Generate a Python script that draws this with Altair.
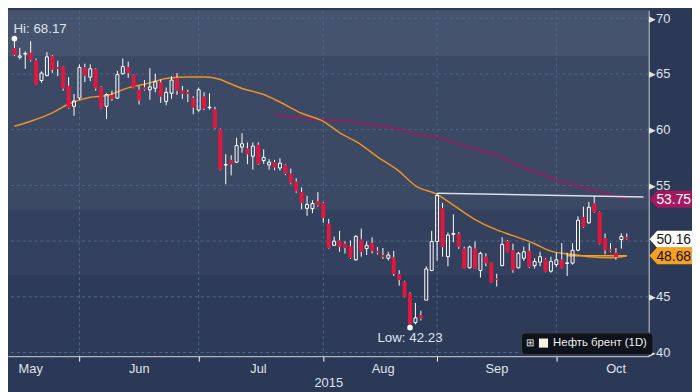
import altair as alt
import pandas as pd

# ---------------- data ----------------
SERIES = "Нефть брент (1D)"
OPEN = [67.31, 66.5, 66.78, 66.9, 66.21, 64.41, 64.85, 66.62, 65.6, 65.66,
        63.93, 62.1, 62.85, 65.58, 64.71, 65.43, 63.84, 62.1, 63.1, 62.83,
        65.02, 65.6, 64.88, 63.58, 63.78, 63.58, 63.72, 64.22, 62.54, 63.26,
        64.65, 63.5, 63.37, 62.83, 61.76, 62.97, 61.96, 61.81, 60.03, 56.82,
        57.28, 57.08, 58.43, 58.3, 57.62, 58.64, 57.22, 56.84, 57.08, 56.56,
        56.84, 56.06, 55.34, 54.39, 52.94, 52.91, 53.55, 53.43, 51.55, 49.62,
        50.05, 49.76, 49.56, 48.32, 50.14, 49.32, 49.82, 49.12, 48.75, 48.46,
        48.52, 47.02, 46.35, 45.28, 42.68, 43.34, 44.7, 47.36, 49.96, 52.94,
        48.6, 50.6, 50.65, 49.32, 47.6, 49.32, 47.36, 48.6, 48.08, 46.62,
        47.8, 50.0, 49.18, 47.6, 48.46, 49.1, 47.8, 48.11, 48.37, 47.3,
        47.89, 48.32, 47.99, 48.02, 49.18, 52.16, 51.64, 53.37, 52.6, 50.25,
        49.24, 48.95, 50.14, 50.34]
HIGH = [68.17, 67.34, 67.02, 67.94, 66.38, 65.23, 66.96, 66.7, 66.18, 65.7,
        64.71, 63.2, 65.86, 65.92, 65.86, 65.5, 63.9, 63.26, 63.5, 65.28,
        66.38, 66.1, 64.94, 63.93, 64.45, 65.52, 65.02, 64.5, 63.78, 64.8,
        65.08, 63.93, 63.58, 63.0, 63.78, 63.35, 63.26, 62.05, 60.1, 57.8,
        57.7, 59.27, 59.68, 58.86, 58.86, 58.86, 58.23, 57.36, 57.28, 57.42,
        56.9, 56.5, 55.63, 54.82, 54.07, 53.67, 54.39, 53.5, 51.99, 50.4,
        50.92, 49.97, 50.05, 50.54, 51.12, 49.97, 50.34, 49.47, 49.38, 49.04,
        49.12, 47.39, 46.44, 45.4, 44.45, 43.75, 47.74, 50.92, 54.3, 53.43,
        50.77, 52.4, 50.8, 49.5, 49.6, 49.96, 49.04, 48.9, 48.1, 47.07,
        50.34, 50.1, 49.76, 49.04, 49.5, 49.82, 48.46, 49.04, 48.46, 48.6,
        48.95, 49.82, 48.95, 49.82, 52.22, 53.09, 53.52, 54.04, 52.65, 50.68,
        49.82, 49.38, 50.71, 50.68]
LOW = [66.6, 66.3, 65.46, 66.12, 64.0, 64.21, 64.8, 65.08, 64.8, 63.5,
       61.9, 61.24, 62.68, 64.28, 64.36, 63.5, 61.85, 60.95, 62.6, 62.77,
       64.94, 64.65, 63.72, 62.25, 63.5, 62.68, 63.35, 62.4, 62.19, 62.77,
       63.11, 62.77, 62.48, 61.38, 61.61, 61.76, 61.8, 60.1, 56.35, 55.1,
       55.9, 57.0, 57.94, 56.9, 56.41, 56.84, 56.93, 56.41, 56.35, 56.32,
       55.92, 55.11, 54.33, 52.85, 52.27, 52.51, 53.09, 51.64, 49.32, 49.56,
       49.04, 48.89, 48.4, 48.23, 48.6, 48.75, 48.89, 48.8, 48.4, 48.26,
       46.87, 46.0, 44.95, 42.23, 42.53, 42.88, 44.7, 47.3, 48.25, 48.6,
       47.74, 49.9, 49.3, 47.5, 47.55, 47.5, 46.72, 47.74, 46.25, 45.92,
       47.74, 48.98, 47.16, 47.55, 48.23, 47.6, 47.54, 47.74, 47.2, 47.16,
       47.68, 47.55, 46.87, 47.88, 49.1, 51.2, 51.55, 52.55, 49.7, 48.8,
       49.0, 48.32, 49.32, 50.1]
CLOSE = [66.73, 66.62, 66.85, 66.24, 64.04, 65.08, 66.53, 65.37, 65.45, 63.7,
         61.96, 62.57, 65.58, 64.85, 65.46, 63.7, 61.9, 63.15, 62.75, 64.94,
         65.66, 65.08, 63.78, 62.63, 63.6, 63.84, 64.3, 62.97, 63.35, 64.45,
         63.5, 63.2, 63.2, 61.99, 63.58, 61.9, 62.02, 60.16, 56.41, 56.88,
         56.9, 58.58, 58.73, 57.8, 58.52, 56.9, 57.51, 57.08, 56.61, 56.99,
         56.06, 55.2, 54.47, 53.43, 53.29, 53.37, 53.2, 52.07, 49.38, 49.99,
         49.47, 49.38, 48.52, 50.42, 49.04, 49.62, 49.12, 48.95, 48.6, 48.75,
         47.07, 46.52, 45.0, 42.53, 43.11, 43.05, 47.5, 49.96, 54.09, 49.47,
         50.54, 50.68, 49.47, 47.54, 49.47, 47.54, 48.9, 48.02, 46.29, 46.52,
         49.7, 49.0, 47.39, 48.9, 49.04, 47.68, 48.17, 48.6, 47.24, 48.17,
         48.32, 47.59, 48.05, 49.18, 51.87, 51.27, 53.03, 52.6, 49.76, 49.18,
         49.1, 48.55, 50.42, 50.16]

# moving averages (trading-day index, value)
MA_ORANGE_I = [0, 3, 7, 10, 14, 17, 21, 25, 28, 32, 35, 38, 39, 42, 46, 49, 53, 57, 60,
               64, 67, 71, 74, 78, 81, 85, 89, 92, 96, 99, 103, 106, 110, 113]
MA_ORANGE_V = [60.3, 60.75, 61.5, 62.3, 62.9, 63.06, 63.75, 64.2, 64.6, 64.72, 64.72,
               64.5, 64.3, 63.7, 63.15, 62.48, 61.47, 60.75, 59.73, 58.64, 57.56, 56.26,
               54.96, 54.2, 53.23, 51.93, 51.0, 50.49, 49.76, 49.1, 48.8, 48.6, 48.5, 48.68]
MA_MAGENTA_I = [48, 53, 57, 60, 64, 67, 71, 74, 78, 83, 89, 94, 100, 106, 113]
MA_MAGENTA_V = [61.3, 61.1, 60.9, 60.8, 60.6, 60.37, 60.03, 59.6, 59.3, 58.55, 57.7,
                56.6, 55.5, 54.67, 53.75]
TREND_I = [78, 116.1]
TREND_V = [54.3, 53.95]
FLAT_I = [102, 113]
FLAT_V = [48.68, 48.68]

MONTH_NAMES = ["May", "Jun", "Jul", "Aug", "Sep", "Oct"]
MONTH_START = [0, 12, 34, 57, 78, 100]      # first trading day shown in each month
GRID_Y = [40, 45, 50, 55, 60, 65, 70]
LABEL_Y = [40, 45, 55, 60, 65, 70]           # "50" sits under the 50.16 tag

BAND_LO = [39.67, 46.96, 52.77, 66.56]
BAND_HI = [46.96, 52.77, 66.56, 70.72]
BAND_COLOR = ["#2e3b58", "#34415e", "#3c4965", "#46536e"]

TAG_PRICE = [53.75, 50.16, 48.68]
TAG_FILL = ["#a3185e", "#ffffff", "#f5a01e"]
TAG_TEXT = ["#ffffff", "#111111", "#111111"]

HI_I, HI_V = 0, 68.17
LO_I, LO_V = 73, 42.23

# ---------------- layout / style ----------------
W, H = 648, 350
XDOM = [-0.27, 116.1]
YDOM = [39.67, 70.72]
FONT = "Liberation Sans"
TXT = "#dfe3ea"
GRID = "#4d6886"
RED = "#e3173e"
ORANGE = "#ec9322"
MAGENTA = "#a0185e"

xs = alt.Scale(domain=XDOM, nice=False, zero=False)
ys = alt.Scale(domain=YDOM, nice=False, zero=False)

label_expr = ""
for v, nme in zip(MONTH_START, MONTH_NAMES):
    label_expr += f"datum.value == {v} ? '{nme}' : "
label_expr += "''"

xaxis = alt.Axis(values=MONTH_START, labelExpr=label_expr,
                 labelOffset={"condition": {"test": "datum.value < 1", "value": 16},
                              "value": 60},
                 tickOpacity={"condition": {"test": "datum.value < 1", "value": 0},
                              "value": 1},
                 labelFlush=False, labelOverlap=False, grid=False,
                 tickSize=5, tickColor="#ffffff", domainColor="#ffffff",
                 labelColor=TXT, labelFontSize=13, labelFont=FONT, labelPadding=2,
                 title="2015", titleFontSize=13, titleFontWeight="normal",
                 titleColor=TXT, titleFont=FONT, titlePadding=1)
yaxis = alt.Axis(orient="right", values=LABEL_Y, labelExpr="'▸' + datum.label",
                 ticks=False, grid=False, domainColor="#ffffff", labelColor=TXT,
                 labelFontSize=13, labelFont=FONT, labelPadding=0, title=None)


def X(f):
    return alt.X(f, type="quantitative", scale=xs, axis=xaxis)


def Y(f):
    return alt.Y(f, type="quantitative", scale=ys, axis=yaxis)


n = len(OPEN)
df = pd.DataFrame({"i": list(range(n)), "open": OPEN, "high": HIGH,
                   "low": LOW, "close": CLOSE})
df["series"] = SERIES
df["top"] = df[["open", "close"]].max(axis=1)
df["bot"] = df[["open", "close"]].min(axis=1)
df["dir"] = ["up" if c >= o else "down" for o, c in zip(OPEN, CLOSE)]

bands_df = pd.DataFrame({"lo": BAND_LO, "hi": BAND_HI, "c": BAND_COLOR})
bands = alt.Chart(bands_df).mark_rect().encode(
    x=alt.value(0), x2=alt.value(W), y=Y("lo"), y2="hi",
    color=alt.Color("c:N", scale=None))

hgrid = alt.Chart(pd.DataFrame({"g": GRID_Y})).mark_rule(
    color=GRID, strokeDash=[3, 3], strokeWidth=1).encode(y=Y("g"))
vgrid = alt.Chart(pd.DataFrame({"m": MONTH_START[1:]})).mark_rule(
    color=GRID, strokeDash=[3, 3], strokeWidth=1).encode(x=X("m"))

orange = alt.Chart(pd.DataFrame({"i": MA_ORANGE_I, "v": MA_ORANGE_V})).mark_line(
    color=ORANGE, strokeWidth=1.5, interpolate="monotone").encode(x=X("i"), y=Y("v"))
flat = alt.Chart(pd.DataFrame({"i": FLAT_I, "v": FLAT_V})).mark_line(
    color="#f5a01e", strokeWidth=1.5).encode(x=X("i"), y=Y("v"))
magenta = alt.Chart(pd.DataFrame({"i": MA_MAGENTA_I, "v": MA_MAGENTA_V})).mark_line(
    color=MAGENTA, strokeWidth=1.5, interpolate="monotone").encode(x=X("i"), y=Y("v"))
trend = alt.Chart(pd.DataFrame({"i": TREND_I, "v": TREND_V})).mark_line(
    color="#d9dde5", strokeWidth=1.5).encode(x=X("i"), y=Y("v"))

legend = alt.Legend(orient="none", legendX=519, legendY=326, title="⊞",
                    titleOrient="left", titleFontSize=10.5, titleColor="#f0f0f0",
                    titlePadding=3, titleFontWeight="normal",
                    fillColor="#0e121a", strokeColor="#3c414c", cornerRadius=4,
                    padding=5, symbolType="square", symbolSize=85,
                    symbolFillColor="#f6f0e6", symbolStrokeColor="#f6f0e6",
                    symbolStrokeWidth=0,
                    labelFontSize=11.5, labelColor="#f0f0f0", labelFont=FONT)

base = alt.Chart(df)
wick_hi = base.mark_rule(strokeWidth=1).encode(
    x=X("i"), y=Y("high"), y2="top",
    color=alt.Color("series:N", scale=alt.Scale(range=["#ffffff"]), legend=legend))
wick_lo = base.mark_rule(strokeWidth=1, color="#ffffff").encode(
    x=X("i"), y=Y("bot"), y2="low")
up = base.transform_filter("datum.dir == 'up'").mark_bar(
    size=3, fillOpacity=0, stroke="#ffffff", strokeWidth=1).encode(
    x=X("i"), y=Y("open"), y2="close")
down = base.transform_filter("datum.dir == 'down'").mark_bar(
    size=4, color=RED).encode(x=X("i"), y=Y("open"), y2="close")

ext_df = pd.DataFrame({"i": [HI_I, LO_I], "v": [HI_V, LO_V],
                       "t": [f"Hi: {HI_V:.2f}", f"Low: {LO_V:.2f}"]})
dots = alt.Chart(ext_df).mark_circle(size=32, color="#ffffff", opacity=1).encode(
    x=X("i"), y=Y("v"))
hi_txt = alt.Chart(ext_df.iloc[[0]]).mark_text(
    align="left", dx=-1, dy=-6, baseline="alphabetic", fontSize=13.5,
    font=FONT, color=TXT).encode(x=X("i"), y=Y("v"), text="t:N")
lo_txt = alt.Chart(ext_df.iloc[[1]]).mark_text(
    align="center", dy=15, baseline="alphabetic", fontSize=13.5,
    font=FONT, color=TXT).encode(x=X("i"), y=Y("v"), text="t:N")

tag_df = pd.DataFrame({"p": TAG_PRICE, "f": TAG_FILL, "tc": TAG_TEXT,
                       "t": [f"{p:.2f}" for p in TAG_PRICE]})
TAG_SHAPE = "M-1,0L-0.64,-0.4L1,-0.4L1,0.4L-0.64,0.4Z"
tags = alt.Chart(tag_df).mark_point(
    shape=TAG_SHAPE, filled=True, size=1849, opacity=1, strokeWidth=0).encode(
    x=alt.value(W + 22.5), y=Y("p"), color=alt.Color("f:N", scale=None))
tag_txt = alt.Chart(tag_df).mark_text(
    align="center", baseline="middle", fontSize=14, font=FONT, dy=1).encode(
    x=alt.value(W + 25.5), y=Y("p"), text="t:N", color=alt.Color("tc:N", scale=None))

chart = alt.layer(
    bands, hgrid, vgrid, magenta, orange, flat, trend,
    wick_hi, wick_lo, up, down, dots, hi_txt, lo_txt, tags, tag_txt
).properties(
    width=W, height=H,
    autosize=alt.AutoSizeParams(type="none"),
    padding={"left": 0, "top": 0, "right": 44, "bottom": 34},
).configure(background="#2c3956").configure_view(stroke=None)

chart.save("out.html", embed_options={"renderer": "svg", "actions": False})
